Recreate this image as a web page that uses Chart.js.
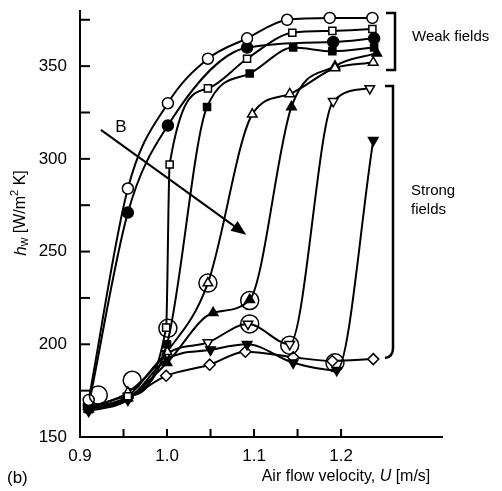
<!DOCTYPE html>
<html>
<head>
<meta charset="utf-8">
<script src="https://cdn.jsdelivr.net/npm/chart.js@4"></script>
<style>
  html, body { margin: 0; padding: 0; background: #fff; }
  canvas { display: block; }
</style>
</head>
<body>
<canvas id="chartHw" width="502" height="491"></canvas>
<script>
// Air flow velocity U [m/s] and heat transfer coefficient h_w [W/m2 K]

// weak fields
const uOpenCircle = [0.91, 0.955, 1.001, 1.047, 1.092, 1.138, 1.187, 1.236];
const hOpenCircle = [170, 284, 330, 354, 365, 375, 376, 376];

const uFilledCircle = [0.91, 0.955, 1.001, 1.092, 1.191, 1.238];
const hFilledCircle = [167, 271, 318, 360, 363, 365];

const uOpenSquare = [0.91, 0.955, 0.999, 1.003, 1.047, 1.092, 1.144, 1.19, 1.236];
const hOpenSquare = [166, 172, 209, 297, 338, 354, 368, 369, 370];

const uFilledSquare = [0.91, 0.955, 1.0, 1.046, 1.095, 1.145, 1.19, 1.238];
const hFilledSquare = [165, 171, 200, 328, 346, 360, 358, 360];

// strong fields
const uOpenTriangle = [0.91, 0.955, 1.0, 1.047, 1.098, 1.141, 1.193, 1.237];
const hOpenTriangle = [166, 174, 196, 233, 324, 335, 349, 352];

const uFilledTriangle = [0.91, 0.955, 1.0, 1.053, 1.095, 1.143, 1.193, 1.241];
const hFilledTriangle = [165, 171, 190, 217, 224, 328, 350, 357];

const uOpenTriDown = [0.91, 0.955, 1.0, 1.047, 1.093, 1.141, 1.191, 1.233];
const hOpenTriDown = [166, 172, 195, 201, 211, 200, 331, 338];

const uFilledTriDown = [0.91, 0.955, 1.0, 1.05, 1.092, 1.145, 1.195, 1.237];
const hFilledTriDown = [164, 170, 192, 197, 200, 190, 186, 310];

const uDiamond = [0.91, 0.955, 0.999, 1.049, 1.09, 1.145, 1.19, 1.237];
const hDiamond = [165, 171, 183, 189, 196, 193, 191, 192];

// circled points where the curves take off
const uTransition = [0.921, 0.96, 1.001, 1.047, 1.095, 1.095, 1.141, 1.193];
const hTransition = [172.6, 180.6, 208.6, 233, 223.6, 211, 199.5, 190];

// axis ticks (all inward, labels every 50 / 0.1)
const hTicks = [150, 175, 200, 225, 250, 275, 300, 325, 350, 375];
const uTicks = [0.9, 0.95, 1.0, 1.05, 1.1, 1.15, 1.2];

const toPoints = (u, h) => u.map((x, i) => ({ x: x, y: h[i] }));

// una curva con su marcador
function serie(u, h, style, filled, rotation) {
    return {
        data: toPoints(u, h),
        showLine: true,
        borderColor: '#000',
        borderWidth: 2,
        cubicInterpolationMode: 'monotone',
        pointStyle: style,
        pointRotation: rotation || 0,
        pointRadius: style === 'rect' ? 5 : 5.5,
        pointBorderWidth: 1.5,
        pointBorderColor: '#000',
        pointBackgroundColor: filled ? '#000' : '#fff'
    };
}

const FONT = 'Liberation Sans, Arial, sans-serif';

// ticks hacia adentro, flecha B, corchetes y textos
const decorations = {
    id: 'decorations',
    afterDraw(chart) {
        const ctx = chart.ctx;
        const x = chart.scales.x;
        const y = chart.scales.y;
        const area = chart.chartArea;
        ctx.save();
        ctx.strokeStyle = '#000';
        ctx.fillStyle = '#000';
        ctx.lineWidth = 2;

        // inward ticks
        uTicks.forEach(v => {
            const px = x.getPixelForValue(v);
            ctx.beginPath();
            ctx.moveTo(px, area.bottom);
            ctx.lineTo(px, area.bottom - 8);
            ctx.stroke();
        });
        hTicks.forEach(v => {
            const py = y.getPixelForValue(v);
            ctx.beginPath();
            ctx.moveTo(area.left, py);
            ctx.lineTo(area.left + 10, py);
            ctx.stroke();
        });

        // arrow B
        const x0 = x.getPixelForValue(0.924), y0 = y.getPixelForValue(315.6);
        const x1 = x.getPixelForValue(1.091), y1 = y.getPixelForValue(259.1);
        const ang = Math.atan2(y1 - y0, x1 - x0);
        ctx.beginPath();
        ctx.moveTo(x0, y0);
        ctx.lineTo(x1 - 10 * Math.cos(ang), y1 - 10 * Math.sin(ang));
        ctx.stroke();
        ctx.beginPath();
        ctx.moveTo(x1, y1);
        ctx.lineTo(x1 - 15 * Math.cos(ang) + 6 * Math.sin(ang), y1 - 15 * Math.sin(ang) - 6 * Math.cos(ang));
        ctx.lineTo(x1 - 15 * Math.cos(ang) - 6 * Math.sin(ang), y1 - 15 * Math.sin(ang) + 6 * Math.cos(ang));
        ctx.closePath();
        ctx.fill();
        ctx.font = '17px ' + FONT;
        ctx.textAlign = 'center';
        ctx.textBaseline = 'middle';
        ctx.fillText('B', 121, 127);

        // brackets
        ctx.lineWidth = 2.5;
        ctx.beginPath();
        ctx.moveTo(386, 13);
        ctx.lineTo(395, 13);
        ctx.lineTo(395, 70);
        ctx.lineTo(386, 70);
        ctx.stroke();
        ctx.beginPath();
        ctx.moveTo(385, 86);
        ctx.lineTo(393, 86);
        ctx.lineTo(393, 348);
        ctx.quadraticCurveTo(393, 357, 385, 358);
        ctx.stroke();

        ctx.textAlign = 'left';
        ctx.font = '15px ' + FONT;
        ctx.fillText('Weak fields', 412, 37);
        ctx.fillText('Strong', 411, 191);
        ctx.fillText('fields', 411, 210);

        // x title
        const a = 'Air flow velocity, ', b = 'U', c = ' [m/s]';
        ctx.font = '16px ' + FONT;
        const wa = ctx.measureText(a).width, wc = ctx.measureText(c).width;
        ctx.font = 'italic 16px ' + FONT;
        const wb = ctx.measureText(b).width;
        let sx = 346 - (wa + wb + wc) / 2;
        ctx.font = '16px ' + FONT;
        ctx.fillText(a, sx, 477);
        ctx.font = 'italic 16px ' + FONT;
        ctx.fillText(b, sx + wa, 477);
        ctx.font = '16px ' + FONT;
        ctx.fillText(c, sx + wa + wb, 477);

        // (b)
        ctx.font = '17px ' + FONT;
        ctx.fillText('(b)', 7, 478);

        // y title h_w [W/m2 K]
        ctx.translate(21, 213);
        ctx.rotate(-Math.PI / 2);
        const parts = [
            { t: 'h', f: 'italic 17px ', dy: 0 },
            { t: 'w', f: '12px ', dy: 4 },
            { t: ' [W/m', f: '16px ', dy: 0 },
            { t: '2', f: '11px ', dy: -6 },
            { t: ' K]', f: '16px ', dy: 0 }
        ];
        let total = 0;
        parts.forEach(p => { ctx.font = p.f + FONT; p.w = ctx.measureText(p.t).width; total += p.w; });
        let cx = -total / 2;
        parts.forEach(p => {
            ctx.font = p.f + FONT;
            ctx.fillText(p.t, cx, p.dy);
            cx += p.w;
        });
        ctx.restore();
    }
};

new Chart(document.getElementById('chartHw'), {
    type: 'scatter',
    data: {
        datasets: [
            {
                data: toPoints(uTransition, hTransition),
                showLine: false,
                order: -1,
                pointStyle: 'circle',
                pointRadius: 9,
                pointBorderWidth: 1.5,
                pointBorderColor: '#000',
                pointBackgroundColor: 'rgba(255,255,255,0)'
            },
            serie(uOpenCircle, hOpenCircle, 'circle', false),
            serie(uFilledCircle, hFilledCircle, 'circle', true),
            serie(uOpenSquare, hOpenSquare, 'rect', false),
            serie(uFilledSquare, hFilledSquare, 'rect', true),
            serie(uOpenTriangle, hOpenTriangle, 'triangle', false),
            serie(uFilledTriangle, hFilledTriangle, 'triangle', true),
            serie(uOpenTriDown, hOpenTriDown, 'triangle', false, 180),
            serie(uFilledTriDown, hFilledTriDown, 'triangle', true, 180),
            serie(uDiamond, hDiamond, 'rectRot', false)
        ]
    },
    options: {
        responsive: false,
        animation: false,
        layout: { padding: { top: 9, right: 60, left: 0, bottom: 0 } },
        plugins: {
            legend: { display: false },
            tooltip: { enabled: false }
        },
        scales: {
            x: {
                type: 'linear',
                min: 0.9,
                max: 1.316,
                grid: { display: false },
                border: { display: true, color: '#000', width: 2 },
                afterFit(scale) { scale.height = 54; },
                afterBuildTicks(scale) {
                    scale.ticks = scale.ticks.filter(t => t.value <= 1.2001);
                },
                ticks: {
                    stepSize: 0.1,
                    includeBounds: false,
                    autoSkip: false,
                    maxRotation: 0,
                    padding: 1,
                    color: '#000',
                    font: { family: FONT, size: 17 },
                    callback(value) {
                        return value.toFixed(1);
                    }
                }
            },
            y: {
                min: 150,
                max: 380,
                grid: { display: false },
                border: { display: true, color: '#000', width: 2 },
                afterFit(scale) {
                    scale.width = 80;
                    scale.paddingTop = 0;
                },
                ticks: {
                    stepSize: 50,
                    includeBounds: false,
                    autoSkip: false,
                    padding: 5,
                    color: '#000',
                    font: { family: FONT, size: 17 }
                }
            }
        }
    },
    plugins: [decorations]
});
</script>
</body>
</html>
